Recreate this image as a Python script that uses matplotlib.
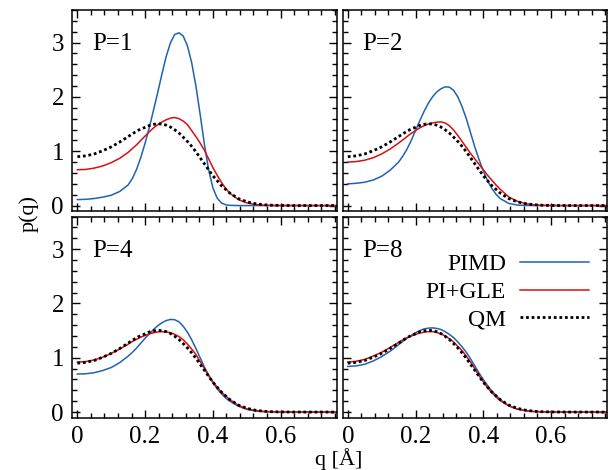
import matplotlib
matplotlib.use("Agg")
import matplotlib.pyplot as plt
from matplotlib.ticker import MultipleLocator

plt.rcParams['font.family'] = ['Liberation Serif', 'DejaVu Serif']
plt.rcParams['font.size'] = 18

# ---------------- data ----------------
q = [0.000, 0.025, 0.050, 0.075, 0.100, 0.125, 0.150, 0.1625, 0.175, 0.1875,
     0.200, 0.2125, 0.225, 0.2375, 0.250, 0.2625, 0.275, 0.2875, 0.300, 0.3125,
     0.325, 0.3375, 0.350, 0.3625, 0.375, 0.3875, 0.400, 0.4125, 0.425, 0.4375,
     0.450, 0.475, 0.500, 0.525, 0.550, 0.575, 0.600, 0.650, 0.700, 0.775]

qm = [0.90, 0.915, 0.95, 1.01, 1.08, 1.17, 1.27, 1.32, 1.37, 1.41,
      1.44, 1.475, 1.495, 1.505, 1.50, 1.48, 1.445, 1.395, 1.335, 1.26,
      1.18, 1.09, 0.99, 0.88, 0.77, 0.66, 0.55, 0.46, 0.37, 0.30,
      0.23, 0.13, 0.07, 0.035, 0.015, 0.006, 0.002, 0, 0, 0]

pimd_p1 = [0.11, 0.115, 0.13, 0.155, 0.19, 0.26, 0.38, 0.50, 0.67, 0.89,
           1.15, 1.44, 1.76, 2.09, 2.43, 2.75, 3.00, 3.15, 3.18, 3.12,
           2.94, 2.63, 2.20, 1.68, 1.13, 0.66, 0.33, 0.14, 0.05, 0.015,
           0.004, 0, 0, 0, 0, 0, 0, 0, 0, 0]
gle_p1 = [0.66, 0.665, 0.69, 0.73, 0.79, 0.87, 0.98, 1.05, 1.12, 1.20,
          1.28, 1.36, 1.43, 1.49, 1.54, 1.58, 1.61, 1.62, 1.60, 1.555,
          1.49, 1.38, 1.27, 1.15, 1.02, 0.86, 0.70, 0.56, 0.43, 0.32,
          0.23, 0.11, 0.05, 0.02, 0.008, 0.003, 0.001, 0, 0, 0]

pimd_p2 = [0.40, 0.41, 0.43, 0.47, 0.54, 0.65, 0.80, 0.91, 1.04, 1.20,
           1.38, 1.56, 1.73, 1.88, 2.00, 2.09, 2.15, 2.185, 2.18, 2.12,
           2.00, 1.82, 1.60, 1.34, 1.08, 0.85, 0.64, 0.46, 0.32, 0.21,
           0.13, 0.04, 0.01, 0.002, 0, 0, 0, 0, 0, 0]
gle_p2 = [0.80, 0.81, 0.835, 0.88, 0.95, 1.04, 1.15, 1.21, 1.27, 1.33,
          1.38, 1.43, 1.47, 1.50, 1.52, 1.535, 1.54, 1.52, 1.47, 1.39,
          1.29, 1.18, 1.07, 0.96, 0.86, 0.76, 0.66, 0.56, 0.47, 0.38,
          0.30, 0.16, 0.08, 0.035, 0.014, 0.005, 0.002, 0, 0, 0]

pimd_p4 = [0.70, 0.705, 0.725, 0.765, 0.82, 0.91, 1.03, 1.10, 1.18, 1.27,
           1.36, 1.44, 1.52, 1.59, 1.645, 1.685, 1.705, 1.70, 1.66, 1.58,
           1.47, 1.33, 1.17, 1.00, 0.83, 0.68, 0.54, 0.43, 0.34, 0.26,
           0.20, 0.11, 0.05, 0.02, 0.008, 0.003, 0.001, 0, 0, 0]
gle_p4 = [0.92, 0.93, 0.96, 1.01, 1.08, 1.16, 1.25, 1.30, 1.34, 1.38,
          1.41, 1.44, 1.46, 1.475, 1.48, 1.475, 1.46, 1.43, 1.39, 1.33,
          1.25, 1.16, 1.06, 0.93, 0.80, 0.67, 0.56, 0.46, 0.37, 0.30,
          0.23, 0.125, 0.06, 0.03, 0.012, 0.005, 0.002, 0, 0, 0]

pimd_p8 = [0.84, 0.85, 0.88, 0.94, 1.02, 1.12, 1.24, 1.30, 1.36, 1.41,
           1.46, 1.50, 1.53, 1.545, 1.55, 1.54, 1.52, 1.48, 1.43, 1.37,
           1.29, 1.20, 1.10, 0.98, 0.85, 0.72, 0.60, 0.49, 0.39, 0.31,
           0.23, 0.12, 0.055, 0.025, 0.01, 0.004, 0.001, 0, 0, 0]
gle_p8 = [0.92, 0.935, 0.97, 1.03, 1.10, 1.19, 1.28, 1.33, 1.37, 1.40,
          1.43, 1.455, 1.47, 1.48, 1.48, 1.465, 1.44, 1.40, 1.35, 1.29,
          1.21, 1.13, 1.03, 0.92, 0.80, 0.67, 0.56, 0.45, 0.36, 0.28,
          0.21, 0.115, 0.055, 0.025, 0.01, 0.004, 0.001, 0, 0, 0]

panel_labels = ["P=1", "P=2", "P=4", "P=8"]
pimd_sets = [pimd_p1, pimd_p2, pimd_p4, pimd_p8]
gle_sets = [gle_p1, gle_p2, gle_p4, gle_p8]
x_ticks = [0, 0.2, 0.4, 0.6]
x_ticklabels = ["0", "0.2", "0.4", "0.6"]
y_ticks = [0, 1, 2, 3]
y_ticklabels = ["0", "1", "2", "3"]

# ---------------- figure ----------------
W, H = 612, 470
fig = plt.figure(figsize=(W / 100, H / 100), dpi=100)

lefts = [72.3, 342.7]
width = 264.5
tops = [10.0, 216.5]
height = 201.0

blue = '#1f63b0'
red = '#d90f0f'

for i in range(4):
    r, c = divmod(i, 2)
    ax = fig.add_axes([lefts[c] / W, 1 - (tops[r] + height) / H, width / W, height / H])
    l1, = ax.plot(q, pimd_sets[i], color=blue, lw=1.1, label='PIMD')
    l2, = ax.plot(q, gle_sets[i], color=red, lw=1.1, label='PI+GLE')
    l3, = ax.plot(q, qm, color='black', lw=2.0, linestyle=(0, (1.0, 1.0)), label='QM')
    ax.set_xlim(-0.015, 0.766)
    ax.set_ylim(-0.1, 3.6)
    ax.xaxis.set_minor_locator(MultipleLocator(0.04))
    ax.yaxis.set_minor_locator(MultipleLocator(0.2))
    ax.set_xticks(x_ticks)
    ax.set_yticks(y_ticks)
    ax.tick_params(which='both', direction='in', top=True, right=True, width=1.0)
    ax.tick_params(which='major', length=6, pad=6)
    ax.tick_params(which='minor', length=3.5)
    if r == 1:
        ax.set_xticklabels(x_ticklabels)
    else:
        ax.set_xticklabels([])
    if c == 0:
        ax.set_yticklabels(y_ticklabels)
    else:
        ax.set_yticklabels([])
    for s in ax.spines.values():
        s.set_linewidth(1.1)
    ax.text(0.075, 0.80, panel_labels[i], transform=ax.transAxes, fontsize=18,
            ha='left', va='baseline')
    if i == 3:
        ax.legend(handles=[l1, l2, l3], loc='upper right', bbox_to_anchor=(0.93, 0.815),
                  frameon=False, markerfirst=False, handlelength=2.9, handletextpad=0.6,
                  labelspacing=0.26, borderpad=0, borderaxespad=0, fontsize=17)

fig.text(29 / W, 1 - 214 / H, 'p(q)', rotation=90, ha='center', va='center', fontsize=16)
fig.text(339 / W, 1 - 459 / H, 'q [Å]', ha='center', va='center', fontsize=16)

fig.savefig('out.png', dpi=100)
